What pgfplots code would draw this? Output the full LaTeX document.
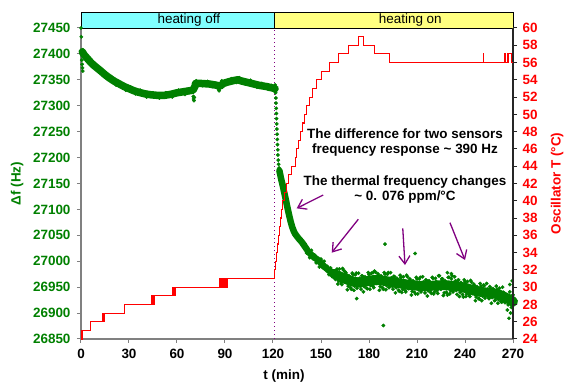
\documentclass[border=0pt]{standalone}
\usepackage{fontspec}
\setmainfont{Liberation Sans}
\usepackage{pgfplots}
\pgfplotsset{compat=1.18}
\usetikzlibrary{arrows.meta}
\definecolor{dkgreen}{RGB}{0,128,0}
\definecolor{purp}{RGB}{128,0,128}
\definecolor{bandcyan}{RGB}{128,255,255}
\definecolor{bandyellow}{RGB}{255,255,128}
\newcommand{\fs}{\fontsize{13.5}{15}\selectfont}
\newcommand{\B}[1]{\textbf{#1}}
\begin{document}
\begin{tikzpicture}
\pgfplotsset{
 base/.style={scale only axis, width=432bp, height=311bp, at={(0,0)}, anchor=south west,
  xmin=0, xmax=270, clip=false, tick align=outside, major tick length=4bp,
  tick label style={font=\fs\bfseries}, label style={font=\fs\bfseries},
  scaled y ticks=false},
 gmark/.style={only marks, mark=*, mark size=1.7bp, color=dkgreen, mark options={draw=dkgreen, fill=dkgreen}},
}
\begin{axis}[base, name=ax, ymin=26850, ymax=27450, ytick={26850,26900,...,27450},
  yticklabels={\B{26850},\B{26900},\B{26950},\B{27000},\B{27050},\B{27100},\B{27150},\B{27200},\B{27250},\B{27300},\B{27350},\B{27400},\B{27450}},
  xtick={0,30,...,270}, xticklabels={\B{0},\B{30},\B{60},\B{90},\B{120},\B{150},\B{180},\B{210},\B{240},\B{270}},
  axis y line*=left, axis x line*=bottom,
  x axis line style={gray, line width=1.2bp, -}, y axis line style={gray, line width=1.2bp, -},
  tick style={gray, line width=1bp},
  yticklabel style={dkgreen, xshift=-3bp, font=\fs\bfseries}, xticklabel style={black, yshift=-3bp, font=\fs\bfseries},
  xlabel={t (min)}, ylabel={Δf (Hz)},
  xlabel style={at={(axis description cs:0.47,0)}, anchor=center, yshift=-37bp},
  ylabel style={dkgreen, at={(axis description cs:-0.148,0.5)}, anchor=center}]
% band
\draw[fill=bandcyan, line width=0.8bp] (axis cs:0,27450) rectangle (axis cs:120.9,27481);
\draw[fill=bandyellow, line width=0.8bp] (axis cs:120.9,27450) rectangle (axis cs:270,27481);
\node[font=\fs, anchor=center] at (axis cs:67.4,27465.5) {heating off};
\node[font=\fs, anchor=center] at (axis cs:205.8,27465.5) {heating on};
% heating switch
\draw[purp, line width=1.3bp, dash pattern=on 1.3bp off 2.7bp] (axis cs:120.9,26850) -- (axis cs:120.9,27450);
% phase 1 trend
\addplot[dkgreen, line width=7.5bp, line join=round, line cap=round] coordinates {
(0.8,27404) (2,27398) (4,27391) (6,27384) (8,27378) (10,27373) (12,27368) (15,27360)
(18,27353) (21,27347) (24,27342) (27,27337) (30,27333) (33,27329) (36,27326) (40,27323)
(44,27321) (48,27320) (52,27320) (56,27322) (60,27325) (64,27327) (68,27329) (70,27330)
(71.3,27338) (71.6,27343) (75,27343) (80,27342) (84,27340) (87,27338) (89,27343) (92,27346)
(96,27349) (98,27350) (100,27348) (104,27345) (108,27342) (112,27339) (116,27337) (120,27334) (121.3,27333)};
\addplot[gmark] coordinates {
(0,27450) (0.2,27433) (0.5,27388) (0.7,27380) (0.9,27373) (1.1,27367)
(1,27408) (1.5,27399) (3,27398) (3.5,27389) (5,27390) (7,27378) (9,27380) (11,27366)
(13,27369) (16,27353) (19,27356) (22,27340) (25,27343) (28,27330) (31,27336) (34,27323)
(37,27330) (41,27317) (45,27325) (49,27315) (53,27325) (57,27317) (61,27330) (65,27322)
(69,27334) (72,27348) (76,27339) (79,27347) (82,27337) (88,27348) (91,27342) (94,27352)
(97,27345) (99,27354) (102,27343) (106,27349) (110,27336) (113,27343) (117,27332) (119,27339)
(121,27328) (121.3,27340)
(70.2,27318) (70.4,27313) (70.6,27310) (70.8,27316) (86,27332) (86.3,27329) (86.6,27333)};
% drop
\addplot[gmark] coordinates {
(121.6,27325) (121.8,27315) (121.9,27305) (122,27295) (122.1,27285) (122.2,27275) (122.3,27265)
(122.4,27255) (122.6,27245) (122.7,27235) (122.8,27225) (123,27215) (123.1,27205) (123.3,27195)
(123.5,27187) (123.8,27180) (124.1,27172) (124.4,27166) (124.8,27161) (125.1,27156)};
\addplot[dkgreen, line width=6.5bp, line join=round, line cap=round] coordinates {
(124,27175) (125,27160) (126,27147) (127,27133) (128,27119) (129,27104) (130,27090) (131,27077)
(132,27066) (133,27058) (134,27052) (136,27044) (138,27037) (140,27028) (142,27019)
(144,27012) (146,27007) (148.3,27002) (150,26996) (152,26990) (154.6,26983) (157,26977) (160,26973)};
\addplot[dkgreen, line width=10bp, line join=round, line cap=round] coordinates {
(158,26976) (160,26973) (163,26969) (167,26964) (171,26960) (174.4,26959) (178,26961) (181,26963)
(184.8,26964) (190,26962) (195.2,26959) (200,26957) (205.6,26954) (210,26953) (216,26952)
(221,26953) (226.4,26954) (231,26953) (236.9,26951) (242,26947) (247.3,26942) (252,26940)
(257.7,26938) (261,26936) (264,26932) (266,26929) (268,26926) (270,26922)};
\addplot[gmark] coordinates {
(140,27034) (141,27016) (142,27022) (143,27007) (144,27021) (145,27005) (146,27012) (147,26997)
(148,27004) (149,26989) (150,27004) (151,26988) (152,27000) (153,26985) (154,26990) (155,26974)
(156,26987) (157,26972) (158,26979) (159,26965)
(160,26985) (161,26962) (162,26976) (163,26955) (164,26983) (165,26961) (166,26974) (167,26952)
(168,26966) (169,26946) (170,26974) (171,26952) (172,26977) (173,26955) (174,26967) (175,26946)
(176,26971) (177,26951) (178,26966) (179,26947) (180,26974) (181,26953) (182,26969) (183,26949)
(184,26979) (185,26958) (186,26973) (187,26951) (188,26966) (189,26946) (190,26975) (191,26953)
(192,26978) (193,26956) (194,26968) (195,26946) (196,26970) (197,26949) (198,26963) (199,26942)
(200,26969) (201,26946) (202,26962) (203,26941) (204,26970) (205,26948) (206,26963) (207,26942)
(208,26956) (209,26937) (210,26966) (211,26945) (212,26969) (213,26948) (214,26960) (215,26939)
(216,26963) (217,26943) (218,26958) (219,26938) (220,26967) (221,26941) (222,26961) (223,26938)
(224,26972) (225,26946) (226,26966) (227,26939) (228,26957) (229,26935) (230,26969) (231,26943)
(232,26972) (233,26947) (234,26962) (235,26936) (236,26964) (237,26940) (238,26955) (239,26931)
(240,26960) (241,26937) (242,26953) (243,26932) (244,26960) (245,26938) (246,26953) (247,26931)
(248,26945) (249,26927) (250,26952) (251,26933) (252,26953) (253,26936) (254,26946) (255,26928)
(256,26948) (257,26930) (258,26942) (259,26925) (260,26946) (261,26926) (262,26939) (263,26921)
(264,26940) (265,26920) (266,26935) (267,26916) (268,26941) (269,26911) (270,26926)
(266.5,26906) (267.5,26890) (268.5,26900) (269.5,26962) (268,26955) (270,26935)
(190,27033) (208.8,27015) (189,26876) (172.3,26928) (165,26980) (182.5,26978) (229,26978) (231.5,26976)
(160.5,26956) (161.5,26985) (162.5,26958) (163.5,26986) (164.5,26960) (165.5,26978) (166.5,26945)
(167.5,26972) (168.5,26949) (169.5,26977) (170.5,26944) (171.5,26974) (172.5,26948) (173.5,26977)
(174.5,26952) (175.5,26972) (176.5,26941) (177.5,26970) (178.5,26948) (179.5,26978) (180.5,26946)
(181.5,26977) (182.5,26952) (183.5,26981) (184.5,26957) (185.5,26976) (186.5,26944) (187.5,26972)
(188.5,26949) (189.5,26978) (190.5,26945) (191.5,26975) (192.5,26949) (193.5,26978) (194.5,26952)
(195.5,26971) (196.5,26939) (197.5,26967) (198.5,26944) (199.5,26973) (200.5,26940) (201.5,26970)
(202.5,26944) (203.5,26973) (204.5,26947) (205.5,26966) (206.5,26935) (207.5,26962) (208.5,26940)
(209.5,26969) (210.5,26937) (211.5,26966) (212.5,26941) (213.5,26970) (214.5,26945) (215.5,26964)
(216.5,26933) (217.5,26962) (218.5,26940) (219.5,26969) (220.5,26937) (221.5,26967) (222.5,26943)
(223.5,26972) (224.5,26947) (225.5,26966) (226.5,26934) (227.5,26962) (228.5,26940) (229.5,26969)
(230.5,26937) (231.5,26966) (232.5,26941) (233.5,26970) (234.5,26944) (235.5,26963) (236.5,26932)
(237.5,26959) (238.5,26936) (239.5,26964) (240.5,26932) (241.5,26961) (242.5,26935) (243.5,26963)
(244.5,26938) (245.5,26956) (246.5,26924) (247.5,26951) (248.5,26928) (249.5,26957) (250.5,26924)
(251.5,26954) (252.5,26929) (253.5,26957) (254.5,26932) (255.5,26951) (256.5,26919) (257.5,26947)
(258.5,26924) (259.5,26952) (260.5,26919) (261.5,26948) (262.5,26922) (263.5,26950) (264.5,26924)};
% annotations
\node[font=\fs\bfseries, align=center] at (axis cs:202.5,27229) {The difference for two sensors\\frequency response \textasciitilde{} 390 Hz};
\node[font=\fs\bfseries, align=center] at (axis cs:202.5,27139) {The thermal frequency changes\\\textasciitilde{} 0. 076 ppm/°C};
\draw[purp, line width=1.3bp, -{Straight Barb[length=8bp, width=11bp]}] (axis cs:151.4,27127.8) -- (axis cs:134.8,27102.1);
\draw[purp, line width=1.3bp, -{Straight Barb[length=8bp, width=11bp]}] (axis cs:173.3,27080.9) -- (axis cs:156.7,27016.5);
\draw[purp, line width=1.3bp, -{Straight Barb[length=8bp, width=11bp]}] (axis cs:201.1,27063.5) -- (axis cs:202.5,26992.7);
\draw[purp, line width=1.3bp, -{Straight Barb[length=8bp, width=11bp]}] (axis cs:230.6,27074.4) -- (axis cs:240,27002.4);
\end{axis}
\begin{axis}[base, ymin=24, ymax=60, ytick={24,26,...,60},
  yticklabels={\B{24},\B{26},\B{28},\B{30},\B{32},\B{34},\B{36},\B{38},\B{40},\B{42},\B{44},\B{46},\B{48},\B{50},\B{52},\B{54},\B{56},\B{58},\B{60}},
  axis y line*=right, hide x axis,
  y axis line style={black!85, line width=1.2bp, -}, tick style={black!85, line width=1bp},
  yticklabel style={red, xshift=2bp, font=\fs\bfseries},
  ylabel={Oscillator T (°C)},
  ylabel style={red, at={(axis description cs:1.102,0.5)}, anchor=center}]
\addplot[red, line width=1.1bp, const plot] coordinates {
(0,24) (0.4,25) (0.6,24) (0.8,25) (5.8,26) (6.0,25) (6.2,26) (6.5,26)
(13.2,27) (13.5,26) (13.8,27) (14.1,26) (14.4,27) (27,28)
(44.2,29) (44.5,28) (44.8,29) (45.1,28) (45.4,29) (45.7,28) (46.0,29)
(57.3,30) (57.6,29) (57.9,30) (58.2,29) (58.5,30) (58.8,29) (59.2,30)
(86.4,31) (86.7,30) (87.0,31) (87.3,30) (87.6,31) (87.9,30) (88.2,31) (88.5,30) (88.8,31)
(89.1,30) (89.4,31) (89.7,30) (90.0,31) (90.3,30) (90.6,31) (91.0,30) (91.4,31)
(121.0,32) (121.4,33) (122.0,34) (122.6,35) (123.3,36) (123.9,37) (124.5,38) (125.1,39)
(125.8,40) (127.2,41) (128.3,42) (129.8,43) (131.8,44) (133.8,45) (134.9,46) (136.0,47)
(137.2,48) (138.3,49) (139.5,50) (141.2,51) (142.9,52) (144.8,53) (147.0,54) (150.5,55)
(155.3,56) (160.8,57) (167.0,58) (173.3,59) (176.3,58) (183.3,57) (192.7,56) (251.3,57)
(251.6,56) (265.0,57) (265.3,56) (266.7,57) (267.0,56) (267.4,57) (268.8,56) (270,56)};
\end{axis}
\pgfresetboundingbox
\path ([xshift=-81bp,yshift=-44bp]ax.south west) rectangle ([xshift=51bp,yshift=28bp]ax.north east);
\end{tikzpicture}
\end{document}
